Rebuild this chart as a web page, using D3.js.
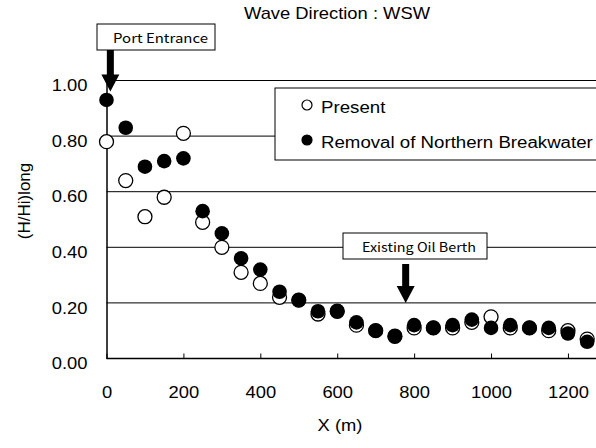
<!DOCTYPE html>
<html>
<head>
<meta charset="utf-8">
<script src="https://cdn.jsdelivr.net/npm/d3@7"></script>
<style>
  body { margin: 0; background: #fff; }
  svg { display: block; }
</style>
</head>
<body>
<script>
// chart data
var xs = [0, 50, 100, 150, 200, 250, 300, 350, 400, 450, 500, 550, 600, 650,
          700, 750, 800, 850, 900, 950, 1000, 1050, 1100, 1150, 1200, 1250];
var present = [0.78, 0.64, 0.51, 0.58, 0.81, 0.49, 0.40, 0.31, 0.27, 0.22, 0.21, 0.16, 0.17, 0.12,
               0.10, 0.08, 0.11, 0.11, 0.11, 0.13, 0.15, 0.11, 0.11, 0.10, 0.10, 0.07];
var removal = [0.93, 0.83, 0.69, 0.71, 0.72, 0.53, 0.45, 0.36, 0.32, 0.24, 0.21, 0.17, 0.17, 0.13,
               0.10, 0.08, 0.12, 0.11, 0.12, 0.14, 0.11, 0.12, 0.11, 0.11, 0.09, 0.06];
var xTicks = [0, 200, 400, 600, 800, 1000, 1200];
var yTicks = [0, 0.2, 0.4, 0.6, 0.8, 1.0];
var seriesNames = ["Present", "Removal of Northern Breakwater"];
var notes = [{label: "Port Entrance", x: 10}, {label: "Existing Oil Berth", x: 778}];

var w = 596, h = 448;
var font = "'Liberation Sans', Arial, sans-serif";
var jfont = "'Noto Sans CJK JP', 'DejaVu Sans', sans-serif";
var wide = 1.08; // the original text is a bit wider than normal

// widen text horizontally
function stretch(sel, k) {
  sel.each(function() {
    var len = this.getComputedTextLength();
    d3.select(this).attr("textLength", len * (k || wide)).attr("lengthAdjust", "spacingAndGlyphs");
  });
}

var svg = d3.select("body").append("svg")
    .attr("width", w)
    .attr("height", h);

var x = d3.scaleLinear().domain([0, 1300]).range([106.5, 606.4]);
var y = d3.scaleLinear().domain([0, 1]).range([358.5, 80.5]);

// grid lines
svg.selectAll("line.grid")
  .data(yTicks.slice(1))
  .enter().append("line")
    .attr("class", "grid")
    .attr("x1", x(0)).attr("x2", w)
    .attr("y1", function(d) { return y(d); })
    .attr("y2", function(d) { return y(d); })
    .attr("stroke", "#000").attr("stroke-width", 1);

// x axis, ticks pointing up
var xAxis = svg.append("g")
    .attr("transform", "translate(0," + y(0) + ")")
    .call(d3.axisBottom(x).tickValues(xTicks).tickSize(-5).tickPadding(27).tickFormat(d3.format("d")));
xAxis.select(".domain").attr("d", "M" + x(0) + ",0H" + w).attr("stroke-width", 1.5);
xAxis.selectAll("text").attr("font-family", font).attr("font-size", 17).attr("fill", "#000").call(stretch);

// y axis
var yAxis = svg.append("g")
    .attr("transform", "translate(" + x(0) + ",0)")
    .call(d3.axisLeft(y).tickValues(yTicks).tickSize(0).tickPadding(19).tickFormat(d3.format(".2f")));
yAxis.select(".domain").attr("stroke-width", 1.5);
yAxis.selectAll("text").attr("font-family", font).attr("font-size", 17).attr("fill", "#000").attr("dy", "0.6em").call(stretch);

// titles
svg.append("text")
    .attr("x", 337).attr("y", 19)
    .attr("text-anchor", "middle")
    .attr("font-family", font).attr("font-size", 17)
    .text("Wave Direction : WSW").call(stretch);

svg.append("text")
    .attr("x", 340).attr("y", 431)
    .attr("text-anchor", "middle")
    .attr("font-family", font).attr("font-size", 17)
    .text("X (m)").call(stretch);

svg.append("text")
    .attr("transform", "translate(30,201) rotate(-90)")
    .attr("text-anchor", "middle")
    .attr("font-family", font).attr("font-size", 17)
    .text("(H/Hi)long");

// annotation boxes with arrows
var boxes = [{x0: 97, y0: 24, bw: 118, bh: 26}, {x0: 343, y0: 233, bw: 144, bh: 26}];
notes.forEach(function(n, i) {
  var b = boxes[i];
  var g = svg.append("g");
  g.append("rect")
    .attr("x", b.x0).attr("y", b.y0).attr("width", b.bw).attr("height", b.bh)
    .attr("fill", "#fff").attr("stroke", "#000").attr("stroke-width", 1);
  g.append("text")
    .attr("x", b.x0 + b.bw - (i === 0 ? 7 : 11)).attr("y", b.y0 + b.bh / 2 + 6)
    .attr("text-anchor", "end")
    .attr("font-family", jfont).attr("font-size", i === 0 ? 13 : 12.5)
    .text(n.label).call(stretch, 1.15);
  var ax = x(n.x);
  var top = i === 0 ? b.y0 + b.bh : b.y0 + b.bh + 5;
  var tip = i === 0 ? y(1) + 11 : y(0.2);
  g.append("rect")
    .attr("x", ax - 3.5).attr("y", top).attr("width", 7).attr("height", tip - 16 - top)
    .attr("fill", "#000");
  g.append("path")
    .attr("d", "M" + (ax - 9) + "," + (tip - 17) + "L" + (ax + 9) + "," + (tip - 17) + "L" + ax + "," + tip + "Z")
    .attr("fill", "#000");
});

// legend
var leg = svg.append("g");
leg.append("rect")
  .attr("x", 275).attr("y", 88).attr("width", 340).attr("height", 72)
  .attr("fill", "#fff").attr("stroke", "#000").attr("stroke-width", 1);
seriesNames.forEach(function(s, i) {
  var ly = 106 + i * 35;
  leg.append("circle")
    .attr("cx", 307).attr("cy", ly - 1).attr("r", 5)
    .attr("fill", i === 0 ? "#fff" : "#000")
    .attr("stroke", "#000").attr("stroke-width", 1.2);
  leg.append("text")
    .attr("x", 321).attr("y", ly + 7)
    .attr("font-family", font).attr("font-size", 17.3)
    .text(s).call(stretch);
});

// points
svg.selectAll("circle.present")
  .data(present)
  .enter().append("circle")
    .attr("class", "present")
    .attr("cx", function(d, i) { return x(xs[i]); })
    .attr("cy", function(d) { return y(d); })
    .attr("r", 7)
    .attr("fill", "#fff").attr("stroke", "#000").attr("stroke-width", 1.3);

svg.selectAll("circle.removal")
  .data(removal)
  .enter().append("circle")
    .attr("class", "removal")
    .attr("cx", function(d, i) { return x(xs[i]); })
    .attr("cy", function(d) { return y(d); })
    .attr("r", 7.3)
    .attr("fill", "#000");
</script>
</body>
</html>
